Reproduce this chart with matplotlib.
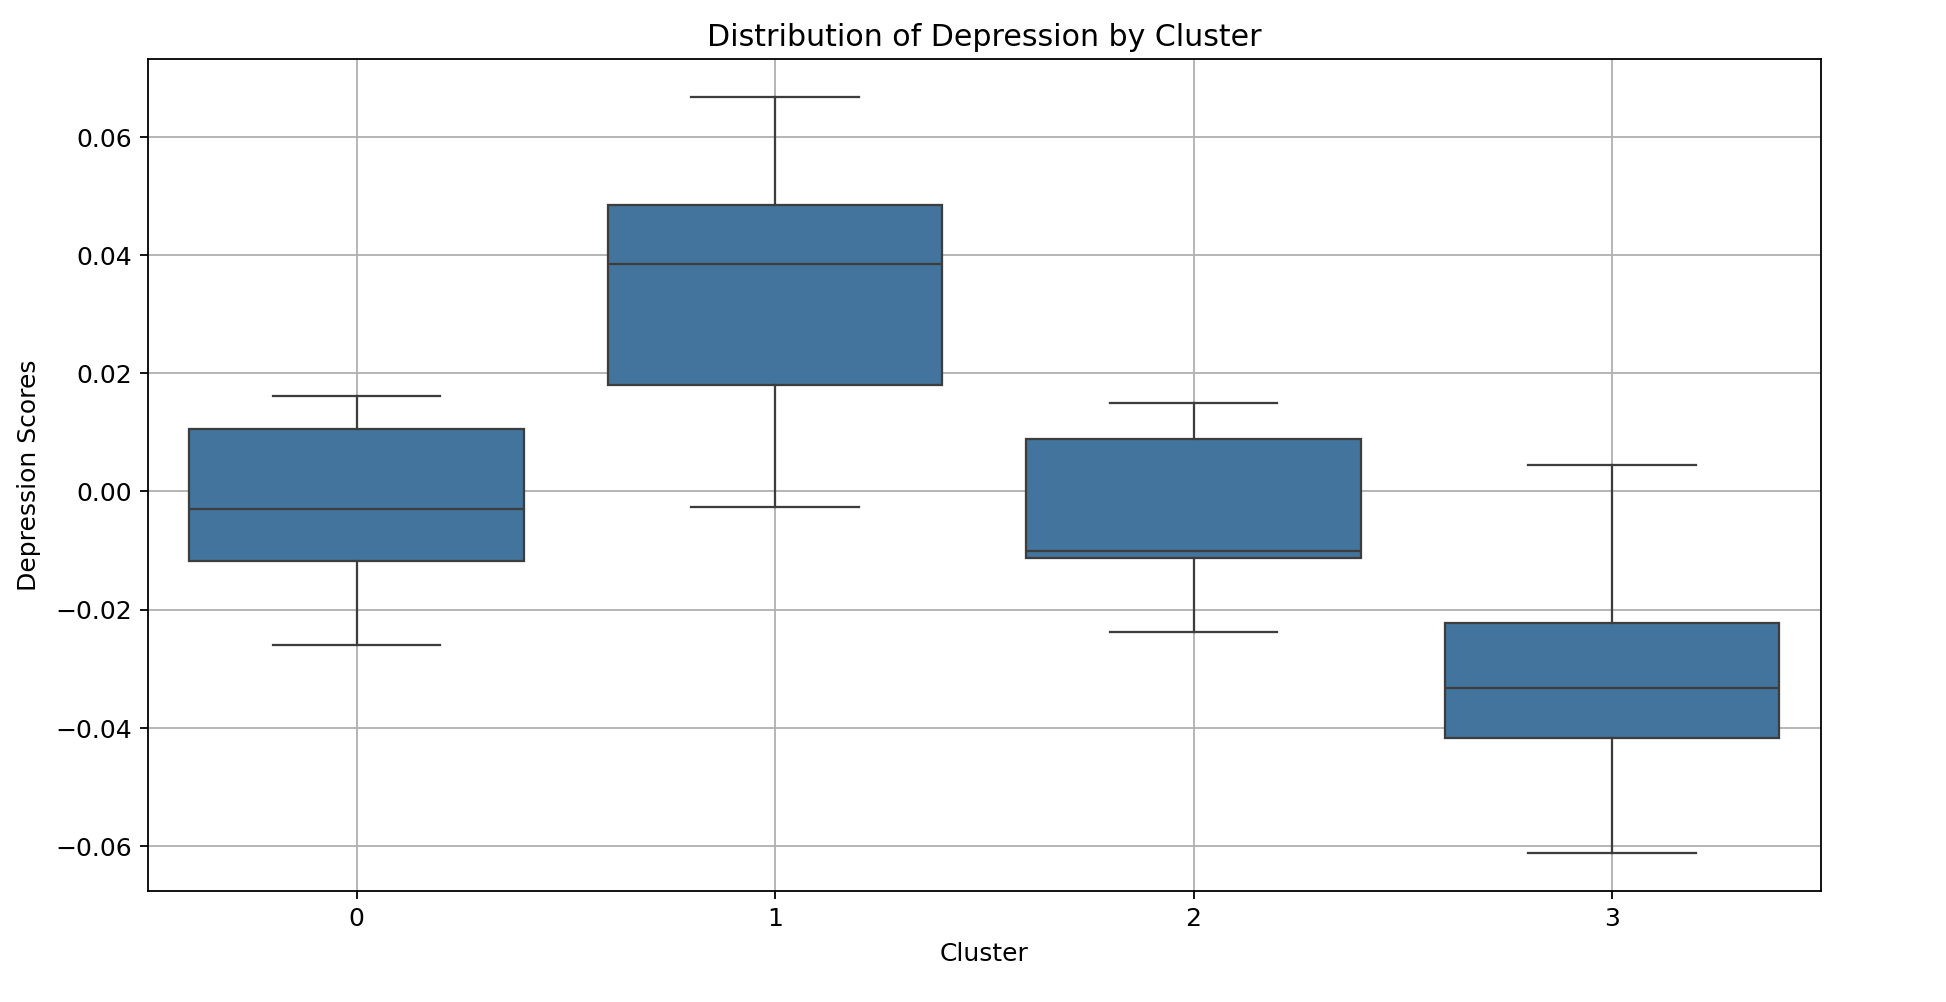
import numpy as np
import matplotlib
matplotlib.use('Agg')
import matplotlib.pyplot as plt

# box statistics, one entry per cluster
clusters = ['0', '1', '2', '3']
whisker_high = [0.0161, 0.0668, 0.0150, 0.0044]
q3 = [0.0105, 0.0485, 0.0089, -0.0222]
median = [-0.0030, 0.0384, -0.0100, -0.0332]
q1 = [-0.0118, 0.0180, -0.0113, -0.0417]
whisker_low = [-0.0259, -0.0027, -0.0237, -0.0612]

box_color = '#42749e'
line_color = '#3d3d3d'

plt.rcParams['font.size'] = 11.1

stats = []
for i in range(len(clusters)):
    stats.append({'label': clusters[i], 'med': median[i], 'q1': q1[i], 'q3': q3[i],
                  'whislo': whisker_low[i], 'whishi': whisker_high[i], 'fliers': []})

fig = plt.figure(figsize=(12, 6.18), dpi=162.17)
ax = fig.add_subplot(111)
fig.subplots_adjust(left=0.0758, right=0.9358, top=0.9411, bottom=0.1108)

lw = 1.0
ax.bxp(stats, positions=range(len(clusters)), widths=0.8, patch_artist=True,
       showfliers=False,
       boxprops=dict(facecolor=box_color, edgecolor=line_color, linewidth=lw, zorder=2),
       medianprops=dict(color=line_color, linewidth=lw, zorder=2.1),
       whiskerprops=dict(color=line_color, linewidth=lw, zorder=2),
       capprops=dict(color=line_color, linewidth=lw, zorder=2),
       capwidths=0.4, manage_ticks=False)

ax.set_xlim(-0.5, len(clusters) - 0.5)
ax.set_xticks(range(len(clusters)))
ax.set_xticklabels(clusters)
ax.margins(y=0.05)
ax.autoscale(axis='y')

ax.set_title('Distribution of Depression by Cluster', fontsize=13.3, pad=6)
ax.set_xlabel('Cluster', labelpad=4.8)
ax.set_ylabel('Depression Scores', labelpad=6)
ax.grid(True)
ax.set_axisbelow(True)

plt.savefig('out.png', dpi=162.17)
